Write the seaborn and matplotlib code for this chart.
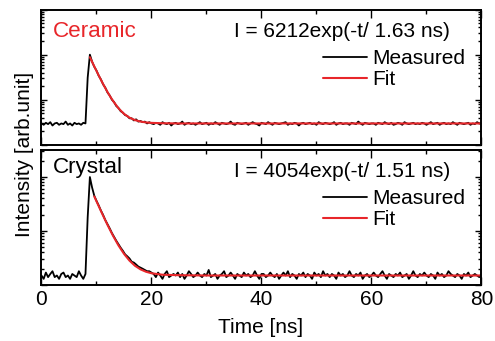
import matplotlib
matplotlib.use("Agg")
import matplotlib.pyplot as plt
import numpy as np
import pandas as pd
import seaborn as sns
from matplotlib.ticker import LogLocator, MultipleLocator, NullFormatter


RED = "#e8262a"
FONT_SIZE = 15

# Time axis of the detector: one sample every 0.4 ns from 0 to 80 ns
SAMPLE_STEP_NS = 0.4
TIME_NS = np.round(np.arange(0, 201) * SAMPLE_STEP_NS, 1)

CERAMIC_MEASURED = [
    30, 28, 31, 29, 32, 27, 30, 31, 28, 30, 29, 33, 28, 30, 27, 31, 29, 30, 28, 31, 30,
    310, 1000,
    700, 540, 445, 342, 284, 221, 186, 146, 125, 101, 89, 73, 66, 56, 52, 46,
    44, 39, 39, 35, 37, 33, 34, 32, 33, 30, 32, 30,
    29, 31, 30, 28, 32, 30, 29, 31, 27, 30,
    31, 29, 30, 33, 28, 30, 31, 29, 30, 28,
    30, 32, 29, 30, 31, 28, 30, 29, 32, 30,
    28, 31, 30, 29, 30, 33, 29, 28, 31, 30,
    29, 30, 31, 28, 30, 32, 30, 29, 27, 31,
    30, 29, 32, 30, 28, 31, 30, 29, 30, 31,
    32, 28, 30, 29, 31, 30, 27, 30, 31, 29,
    30, 31, 29, 30, 28, 32, 30, 29, 31, 30,
    29, 30, 32, 28, 30, 31, 29, 30, 30, 28,
    31, 30, 29, 33, 30, 28, 31, 30, 29, 30,
    30, 28, 31, 30, 29, 32, 30, 29, 31, 28,
    29, 31, 30, 28, 32, 30, 29, 30, 31, 29,
    30, 29, 31, 30, 28, 30, 32, 29, 30, 31,
    28, 30, 31, 29, 30, 29, 32, 30, 28, 31,
    30, 29, 30, 31, 28, 30, 29, 32, 30, 30,
]

CRYSTAL_MEASURED = [
    15, 13, 17, 14, 16, 18, 14, 15, 13, 16, 17, 14, 15, 13, 16, 15, 14, 18, 15, 13, 16,
    180, 1000,
    640, 450, 362, 298, 240, 199, 160, 134, 112, 92, 78, 66, 57, 49, 43, 37,
    34, 31, 27, 26, 24, 22, 21, 20, 19, 18, 18, 17,
    16, 14, 17, 15, 13, 16, 18, 14, 15, 16,
    15, 17, 14, 16, 13, 15, 18, 16, 14, 15,
    17, 15, 14, 16, 15, 19, 14, 15, 16, 13,
    15, 16, 18, 14, 15, 17, 15, 13, 16, 15,
    14, 17, 15, 16, 14, 15, 18, 15, 13, 16,
    16, 14, 15, 17, 15, 14, 16, 13, 15, 17,
    15, 18, 14, 16, 15, 13, 16, 15, 17, 14,
    16, 15, 13, 17, 15, 16, 14, 18, 15, 16,
    14, 16, 15, 13, 17, 15, 16, 14, 15, 18,
    15, 14, 16, 15, 17, 13, 15, 16, 14, 15,
    17, 15, 14, 16, 18, 15, 13, 16, 15, 14,
    16, 15, 17, 14, 15, 16, 13, 15, 18, 15,
    14, 16, 15, 17, 15, 14, 16, 15, 13, 17,
    15, 16, 14, 15, 18, 16, 15, 14, 16, 15,
    13, 16, 15, 17, 14, 15, 16, 15, 14, 16,
]

# Fitted curves
CERAMIC_FIT_TIME = [8.8, 9.0, 9.5, 10, 10.5, 11, 11.5, 12, 12.5, 13, 14, 15, 16, 17,
                    18, 19, 20, 22, 25, 30, 40, 50, 60, 70, 80]
CERAMIC_FIT = [880, 782, 583, 437, 329, 250, 192, 149, 118, 95, 65, 49, 40.3, 35.6,
               33, 31.6, 30.9, 30.3, 30, 30, 30, 30, 30, 30, 30]

CRYSTAL_FIT_TIME = [9.6, 10, 10.5, 11, 11.5, 12, 12.5, 13, 14, 15, 16, 17, 18, 19,
                    20, 22, 25, 30, 40, 50, 60, 70, 80]
CRYSTAL_FIT = [437, 355, 275, 213, 166, 130, 103, 82, 54, 37.8, 28.3, 22.7, 19.5,
               17.6, 16.5, 15.5, 15.2, 15, 15, 15, 15, 15, 15]

PANELS = [
    {"name": "Ceramic", "color": RED, "measured": CERAMIC_MEASURED,
     "fit_t": CERAMIC_FIT_TIME, "fit": CERAMIC_FIT,
     "equation": "I = 6212exp(-t/ 1.63 ns)", "ylim": (10, 1e4), "name_y": 0.80},
    {"name": "Crystal", "color": "black", "measured": CRYSTAL_MEASURED,
     "fit_t": CRYSTAL_FIT_TIME, "fit": CRYSTAL_FIT,
     "equation": "I = 4054exp(-t/ 1.51 ns)", "ylim": (10, 10 ** 3.5), "name_y": 0.827},
]


def style_axis(ax, ylim, show_xlabels):
    ax.set_yscale("log")
    ax.set_xlim(0, 80)
    ax.set_ylim(*ylim)
    ax.xaxis.set_major_locator(MultipleLocator(20))
    ax.xaxis.set_minor_locator(MultipleLocator(10))
    ax.yaxis.set_major_locator(LogLocator(base=10))
    ax.yaxis.set_minor_locator(LogLocator(base=10, subs=np.arange(2, 10)))
    ax.yaxis.set_major_formatter(NullFormatter())
    ax.yaxis.set_minor_formatter(NullFormatter())
    ax.tick_params(which="both", direction="in", top=True, right=True, width=1,
                   color="black")
    ax.tick_params(axis="x", which="major", length=5.5, pad=3.5, labelsize=FONT_SIZE,
                   labelcolor="black")
    ax.tick_params(axis="x", which="minor", length=3)
    ax.tick_params(axis="y", which="major", length=4)
    ax.tick_params(axis="y", which="minor", length=2.5)
    if not show_xlabels:
        ax.tick_params(axis="x", labelbottom=False)
    for spine in ax.spines.values():
        spine.set_linewidth(1.4)
        spine.set_color("black")
        spine.set_visible(True)
    ax.set_xlabel("")
    ax.set_ylabel("")


def draw_panel(ax, panel, show_xlabels):
    measured = pd.DataFrame({"time": TIME_NS, "intensity": panel["measured"]})
    fit = pd.DataFrame({"time": panel["fit_t"], "intensity": panel["fit"]})
    sns.lineplot(data=measured, x="time", y="intensity", color="black",
                 linewidth=1.3, label="Measured", ax=ax)
    sns.lineplot(data=fit, x="time", y="intensity", color=RED,
                 linewidth=1.5, label="Fit", ax=ax)
    style_axis(ax, panel["ylim"], show_xlabels)

    ax.text(0.026, panel["name_y"], panel["name"], color=panel["color"],
            fontsize=16.2, transform=ax.transAxes, va="baseline")
    ax.text(0.928, 0.80, panel["equation"], fontsize=FONT_SIZE, color="black",
            transform=ax.transAxes, ha="right", va="baseline")
    leg = ax.legend(loc="upper left", bbox_to_anchor=(0.64, 0.71), frameon=False,
                    fontsize=FONT_SIZE, handlelength=2.1, handletextpad=0.25,
                    labelspacing=0.1, borderpad=0, borderaxespad=0)
    for text in leg.get_texts():
        text.set_color("black")


def main():
    sns.set_style("ticks")
    plt.rcParams["font.family"] = ["Liberation Sans", "DejaVu Sans"]
    plt.rcParams["text.color"] = "black"

    fig = plt.figure(figsize=(4.95, 3.41), dpi=100)
    ax_top = fig.add_axes([0.0838, 0.5748, 0.8889, 0.3973])
    ax_bottom = fig.add_axes([0.0838, 0.1642, 0.8889, 0.3959])

    draw_panel(ax_top, PANELS[0], show_xlabels=False)
    draw_panel(ax_bottom, PANELS[1], show_xlabels=True)

    fig.text(0.527, 0.0235, "Time [ns]", fontsize=FONT_SIZE, ha="center", va="baseline")
    fig.text(0.05, 0.548, "Intensity [arb.unit]", fontsize=FONT_SIZE,
             rotation=90, ha="center", va="center")

    fig.savefig("out.png", dpi=100)
    plt.close(fig)


if __name__ == "__main__":
    main()
